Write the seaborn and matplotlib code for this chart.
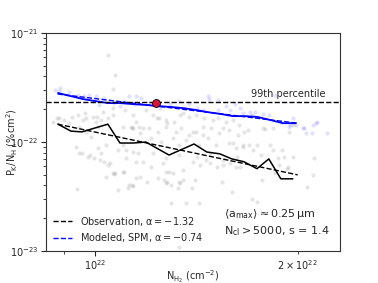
import numpy as np
import pandas as pd
import matplotlib
matplotlib.use('Agg')
import matplotlib.pyplot as plt
import matplotlib.transforms as mtransforms
import seaborn as sns

# ── data (x in 1e22 cm^-2, y in 1e-22 % cm^2) ──
gray_x = [1.045, 1.071, 1.064,
          0.866, 0.884, 0.900, 0.915, 0.944, 0.960, 0.970, 0.993, 1.003, 1.021, 1.010, 1.045, 1.064,
          1.100, 1.131, 1.139, 1.150, 1.162, 1.178, 0.947, 0.970, 0.986, 0.937, 0.947, 0.976, 0.997,
          1.010, 1.021, 1.038, 1.031, 1.045, 1.064, 1.082, 1.100, 1.112, 1.139, 1.158, 1.150, 1.178,
          1.112, 0.956, 0.983, 1.017, 1.053, 1.082, 1.119, 1.135, 0.940, 1.071, 1.100, 1.166, 1.194,
          1.279, 1.305, 1.337, 1.262, 1.038, 1.068, 1.104, 1.123, 1.139, 1.150, 1.240, 1.266, 1.275,
          1.297, 1.332, 1.351, 1.328, 1.364, 1.426, 1.288, 1.297, 1.332,
          1.190, 1.219, 1.244, 1.275, 1.310, 1.351, 1.379, 1.412, 1.451, 1.497, 1.522, 1.564, 1.602,
          1.635, 1.202, 1.240, 1.275, 1.319, 1.342, 1.379, 1.412, 1.446, 1.486, 1.527, 1.580, 1.630,
          1.664, 1.211, 1.253, 1.305, 1.332, 1.364, 1.426, 1.471, 1.512, 1.580, 1.619, 1.658, 1.219,
          1.275, 1.332, 1.398, 1.461, 1.549, 1.619, 1.211, 1.275, 1.351,
          1.432, 1.481, 1.517, 1.549, 1.586, 1.625, 1.641, 1.543, 1.597, 1.710, 1.740, 1.769, 1.850,
          1.927, 2.063, 2.107, 1.868, 1.894, 1.837, 1.818, 1.740, 1.658, 1.602, 1.481, 1.417, 1.407,
          1.393, 1.686, 1.775, 1.837, 1.940, 1.716, 1.763, 1.907, 1.967, 2.114, 1.692, 1.875, 1.933,
          1.398, 1.446, 1.549, 1.787, 1.967,
          0.878, 0.924, 0.966, 1.007, 1.028, 1.064, 1.108, 1.139, 1.135, 1.166, 1.236, 1.279, 1.337]
gray_y = [6.29, 4.12, 3.06,
          1.52, 1.66, 1.59, 1.49, 1.77, 1.59, 1.66, 1.69, 1.52, 1.59, 1.37, 1.66, 1.77,
          1.37, 1.37, 1.34, 1.52, 1.37, 1.34, 1.37, 1.24, 1.11, 0.90, 0.79, 0.73, 0.71,
          0.88, 0.79, 0.94, 0.655, 0.615, 0.52, 0.845, 0.94, 0.845, 0.81, 0.79, 0.655, 0.655,
          0.71, 0.79, 0.76, 0.684, 0.64, 0.363, 0.378, 0.403, 0.37, 0.52, 0.53, 0.478, 0.43,
          0.43, 0.52, 0.425, 0.64, 0.478, 0.51, 0.53, 0.403, 0.395, 0.47, 0.47, 0.448, 0.42,
          0.403, 0.43, 0.448, 0.378, 0.276, 0.276, 0.53, 0.276, 0.11,
          1.97, 1.77, 1.66, 1.59, 1.52, 1.85, 1.69, 1.77, 1.66, 1.59, 1.66, 1.52, 1.59,
          1.43, 1.34, 1.24, 1.37, 1.24, 1.34, 1.16, 1.24, 1.37, 1.34, 1.21, 1.29, 1.16,
          1.24, 1.09, 1.00, 1.09, 0.938, 1.04, 0.938, 1.09, 0.938, 0.98, 0.88, 0.938, 0.79,
          0.71, 0.76, 0.655, 0.684, 0.615, 0.59, 0.59, 0.53, 0.553,
          0.615, 0.64, 0.59, 0.684, 0.64, 0.728, 0.59, 0.43, 0.35, 0.30, 0.28, 0.448, 0.52,
          0.57, 0.386, 0.498, 0.71, 0.845, 0.845, 0.938, 0.938, 0.90, 0.98, 0.79, 0.728, 0.448,
          0.378, 1.29, 1.34, 1.34, 1.24, 0.845, 0.76, 0.728, 0.728, 0.71, 0.938, 0.615, 0.59,
          1.24, 1.16, 1.34, 1.31, 1.43,
          1.66, 1.69, 1.85, 1.69, 1.90, 2.05, 1.97, 1.77, 1.34, 1.21, 1.66, 1.49, 1.77]

blue_x = [0.872, 0.884, 0.915, 0.944, 0.980, 1.003, 1.031, 1.067, 1.100, 1.123, 1.150, 1.170,
          1.014, 0.993, 1.332, 1.379, 1.471, 1.476, 1.522, 1.564, 1.417, 1.446, 1.522, 1.586,
          1.658, 1.710, 1.728, 1.775, 1.947, 1.967, 2.034, 2.107, 2.135, 2.210, 2.100, 1.698,
          1.812, 1.888, 1.940, 1.987, 2.041, 2.056, 2.128, 1.850, 1.207, 1.249, 1.292, 1.356,
          1.641, 1.613, 0.887, 0.963, 1.089, 1.146]
blue_y = [3.00, 2.94, 2.88, 2.70, 2.70, 2.64, 2.53, 2.28, 2.38, 2.64, 2.64, 2.53,
          2.18, 2.38, 2.38, 2.23, 2.64, 2.48, 2.43, 2.14, 2.05, 1.97, 1.97, 1.97,
          1.85, 1.77, 1.88, 1.81, 1.43, 1.66, 1.34, 1.43, 1.52, 1.21, 1.21, 1.88,
          1.77, 1.52, 1.37, 1.43, 1.34, 1.21, 1.49, 2.70, 2.28, 2.05, 2.23, 2.05,
          2.05, 2.23, 3.13, 2.64, 2.14, 2.23]

obs_bin_x = [0.881, 0.921, 0.956, 1.045, 1.089, 1.139, 1.190, 1.288, 1.403, 1.466, 1.532,
             1.597, 1.664, 1.740, 1.812, 1.888, 1.967]
obs_bin_y = [1.46, 1.26, 1.24, 1.46, 0.98, 0.98, 1.00, 0.76, 0.96, 0.81, 0.78,
             0.70, 0.66, 0.57, 0.70, 0.46, 0.46]

mod_bin_x = [0.881, 0.921, 0.960, 1.000, 1.045, 1.089, 1.139, 1.190, 1.240, 1.297, 1.351,
             1.412, 1.471, 1.538, 1.602, 1.675, 1.744, 1.824, 1.902, 1.987]
mod_bin_y = [2.82, 2.64, 2.48, 2.38, 2.28, 2.28, 2.23, 2.19, 2.14, 2.10, 2.05,
             1.97, 1.88, 1.81, 1.73, 1.73, 1.70, 1.59, 1.49, 1.49]

obs_fit_x = [0.88, 2.00]
obs_fit_y = [1.46, 0.50]
mod_fit_x = [0.88, 2.00]
mod_fit_y = [2.76, 1.49]

p99 = 2.33
peak_x, peak_y = [1.232], [2.26]

XS, YS = 1e22, 1e-22

# ── style ──
sns.set_style('ticks')
plt.rcParams['font.family'] = ['DejaVu Sans']
plt.rcParams['mathtext.default'] = 'regular'
plt.rcParams['font.size'] = 7
plt.rcParams['xtick.major.size'] = 3.5
plt.rcParams['ytick.major.size'] = 3.5
plt.rcParams['xtick.minor.size'] = 2
plt.rcParams['ytick.minor.size'] = 2

fig = plt.figure(figsize=(3.78, 2.83), dpi=100)
ax = fig.add_axes([0.122, 0.113, 0.777, 0.770])

gray = pd.DataFrame({'x': np.array(gray_x) * XS, 'y': np.array(gray_y) * YS})
blue = pd.DataFrame({'x': np.array(blue_x) * XS, 'y': np.array(blue_y) * YS})
sns.scatterplot(data=gray, x='x', y='y', color='gray', alpha=0.2, s=9, linewidth=0, ax=ax)
sns.scatterplot(data=blue, x='x', y='y', color='blue', alpha=0.12, s=9, linewidth=0, ax=ax)

sns.lineplot(x=np.array(obs_bin_x) * XS, y=np.array(obs_bin_y) * YS, color='black',
             lw=1.1, estimator=None, sort=False, ax=ax)
sns.lineplot(x=np.array(mod_bin_x) * XS, y=np.array(mod_bin_y) * YS, color='blue',
             lw=1.3, estimator=None, sort=False, ax=ax)
sns.lineplot(x=np.array(obs_fit_x) * XS, y=np.array(obs_fit_y) * YS, color='black',
             lw=1.0, ls='--', estimator=None, sort=False, ax=ax,
             label=r'Observation, $\alpha = -1.32$')
sns.lineplot(x=np.array(mod_fit_x) * XS, y=np.array(mod_fit_y) * YS, color='blue',
             lw=1.0, ls='--', estimator=None, sort=False, ax=ax,
             label=r'Modeled, SPM, $\alpha = -0.74$')

ax.axhline(p99 * YS, color='black', ls='--', lw=1.0)
trans = mtransforms.blended_transform_factory(ax.transAxes, ax.transData)
ax.text(0.95, p99 * YS * 1.06, '99th percentile', transform=trans,
        ha='right', va='bottom', fontsize=7)

ax.scatter(np.array(peak_x) * XS, np.array(peak_y) * YS, s=32, color='crimson',
           edgecolor='black', linewidth=0.6, zorder=5)

ax.set_xscale('log')
ax.set_yscale('log')
ax.set_xlim(8.46e21, 2.31e22)
ax.set_ylim(1e-23, 1e-21)
ax.set_xlabel(r'$N_{H_2}$ (cm$^{-2}$)', fontsize=7, va='center')
ax.set_ylabel(r'$P_K/N_H$ (%cm$^2$)', fontsize=7, va='center')
ax.xaxis.set_label_coords(0.5, -0.119)
ax.yaxis.set_label_coords(-0.116, 0.5)
ax.tick_params(labelsize=7, pad=2)

ax.legend(loc='lower left', frameon=False, fontsize=7, labelspacing=0.35,
          borderaxespad=0.3)
ax.text(0.605, 0.17, r'$\langle a_{max}\rangle \approx 0.25\,\mu m$',
        transform=ax.transAxes, fontsize=8, va='center')
ax.text(0.605, 0.092, r'$N_{cl} > 5000$, s = 1.4',
        transform=ax.transAxes, fontsize=8, va='center')

for sp in ax.spines.values():
    sp.set_visible(True)
    sp.set_color('#333333')
    sp.set_linewidth(0.8)

fig.savefig('out.png', dpi=100)
